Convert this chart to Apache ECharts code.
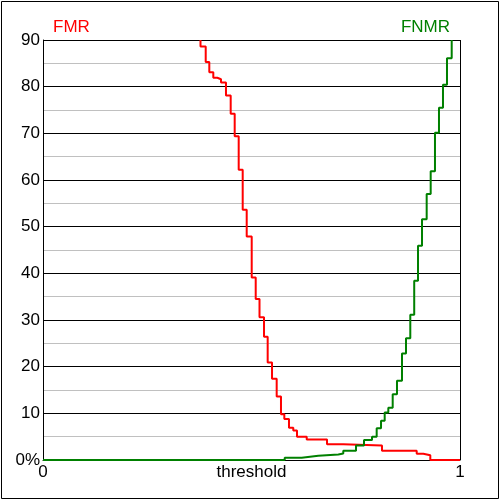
<!DOCTYPE html>
<html>
<head>
<meta charset="utf-8">
<script src="https://cdn.jsdelivr.net/npm/echarts@6/dist/echarts.min.js"></script>
<style>
  html, body { margin: 0; padding: 0; background: #fff; }
  #chart { width: 500px; height: 500px; }
</style>
</head>
<body>
<div id="chart"></div>
<script>
// FMR: thresholds where the rate drops, and the value after each drop
const fmrX = [0.3777, 0.3777, 0.3902, 0.3988, 0.4084, 0.4180, 0.4269, 0.4388, 0.4501, 0.4597, 0.4693,
  0.4789, 0.4885, 0.5005, 0.5101, 0.5192, 0.5300, 0.5388, 0.5492, 0.5604, 0.5707, 0.5787,
  0.5899, 0.6002, 0.6091, 0.6324, 0.6811, 0.7201, 0.8129, 0.8962, 0.9120, 0.9288, 1.0];
const fmrY = [90, 88.6, 85.3, 83.1, 81.9, 81.6, 80.9, 78.1, 74.2, 69.4, 62.2,
  53.6, 47.9, 39.1, 34.5, 30.6, 26.4, 20.9, 17.4, 13.6, 9.8, 8.8,
  6.9, 6.3, 5.0, 4.4, 3.4, 3.1, 2.0, 1.35, 1.0, 0, 0];

// FNMR: thresholds where the rate rises, and the value after each rise
const fnmrX = [0, 0.5796, 0.6204, 0.6602, 0.7082, 0.7201, 0.7506, 0.7698, 0.7890, 0.8002, 0.8106,
  0.8194, 0.8281, 0.8386, 0.8489, 0.8609, 0.8705, 0.8808, 0.8902, 0.8993, 0.9089,
  0.9201, 0.9297, 0.9400, 0.9496, 0.9592, 0.9688, 0.9801];
const fnmrY = [0, 0.5, 0.9, 1.2, 1.4, 2.0, 3.1, 4.3, 5.0, 6.8, 8.4,
  10.2, 11.2, 14.1, 17.0, 22.8, 26.1, 31.1, 38.4, 45.9, 51.6,
  57.0, 61.9, 70.1, 75.5, 80.4, 86.1, 90];

const font = 'Liberation Sans, Arial, sans-serif';
const zip = (xs, ys) => xs.map((x, i) => [x, ys[i]]);

const chart = echarts.init(document.getElementById('chart'), null, { renderer: 'canvas' });
chart.setOption({
  animation: false,
  backgroundColor: '#fff',
  textStyle: { fontFamily: font },
  title: [
    { text: 'FMR', left: 53, top: 19, padding: 0, textStyle: { color: '#ff0000', fontSize: 17, fontWeight: 'normal', fontFamily: font } },
    { text: 'FNMR', right: 50, top: 19, padding: 0, textStyle: { color: '#008000', fontSize: 17, fontWeight: 'normal', fontFamily: font } }
  ],
  graphic: [{
    type: 'rect',
    shape: { x: 1.5, y: 1.5, width: 497, height: 497 },
    style: { fill: 'none', stroke: '#000', lineWidth: 1 },
    silent: true
  }],
  grid: { left: 43, right: 40, top: 40, bottom: 40, containLabel: false, outerBoundsMode: 'none' },
  xAxis: {
    type: 'value',
    min: 0,
    max: 1,
    interval: 1,
    name: 'threshold',
    nameLocation: 'middle',
    nameGap: 4,
    nameMoveOverlap: false,
    nameTextStyle: { color: '#000', fontSize: 17, verticalAlign: 'top', fontFamily: font },
    axisLine: { show: true, lineStyle: { color: '#000', width: 1 } },
    axisTick: { show: false },
    axisLabel: { color: '#000', fontSize: 17, margin: 4, fontFamily: font },
    splitLine: { show: true, lineStyle: { color: '#000', width: 1 } }
  },
  yAxis: {
    type: 'value',
    min: 0,
    max: 90,
    interval: 10,
    axisLine: { show: true, lineStyle: { color: '#000', width: 1 } },
    axisTick: { show: false },
    axisLabel: {
      color: '#000', fontSize: 17, margin: 3, fontFamily: font,
      formatter: v => v === 0 ? '0%' : String(v)
    },
    splitLine: { show: true, lineStyle: { color: '#000', width: 1 } },
    minorTick: { show: false, splitNumber: 2 },
    minorSplitLine: { show: true, lineStyle: { color: '#c0c0c0', width: 1 } }
  },
  series: [
    {
      name: 'FMR',
      type: 'line',
      step: 'end',
      showSymbol: false,
      clip: true,
      data: zip(fmrX, fmrY),
      lineStyle: { color: '#ff0000', width: 2 },
      itemStyle: { color: '#ff0000' }
    },
    {
      name: 'FNMR',
      type: 'line',
      step: 'end',
      showSymbol: false,
      clip: true,
      data: zip(fnmrX, fnmrY),
      lineStyle: { color: '#008000', width: 2 },
      itemStyle: { color: '#008000' }
    }
  ]
});
</script>
</body>
</html>
